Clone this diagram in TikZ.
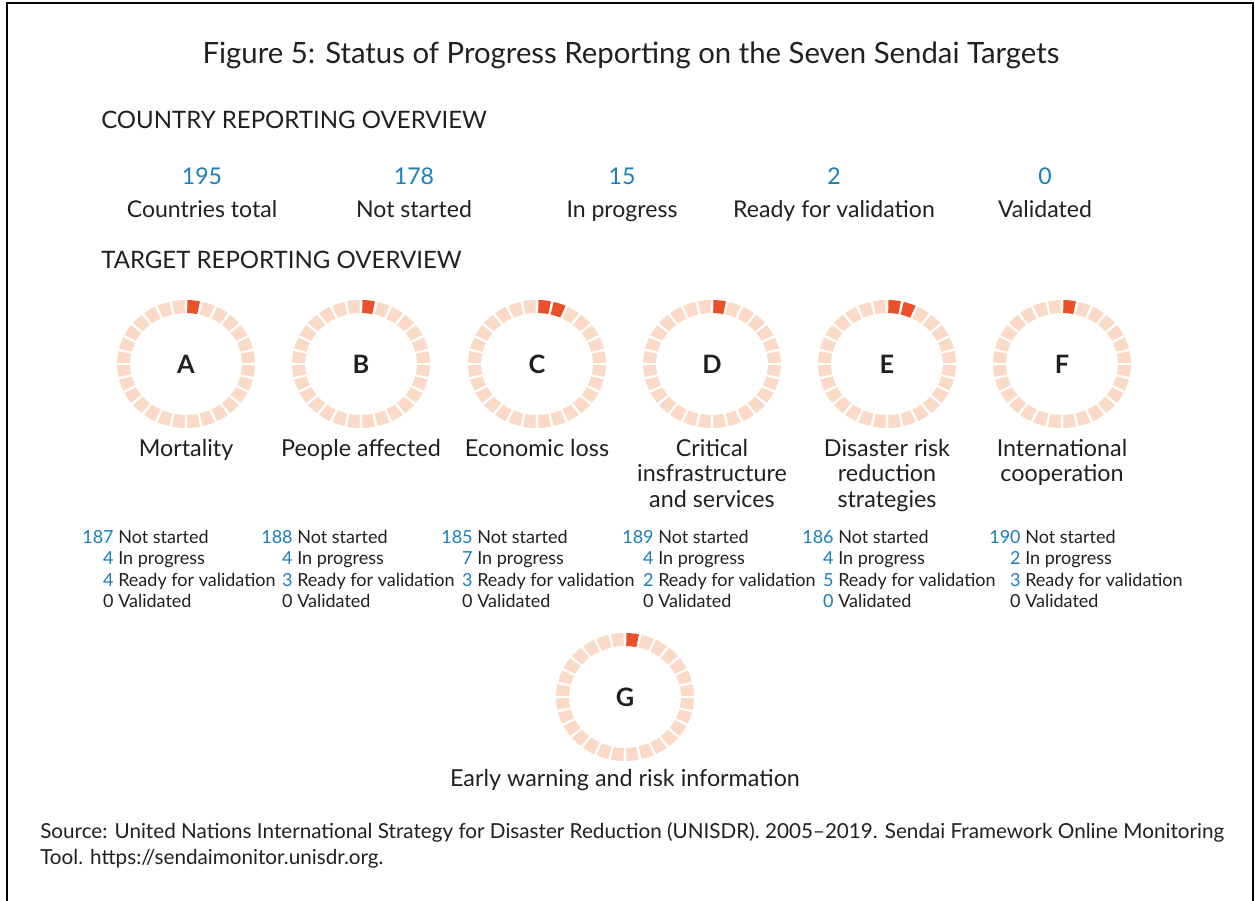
\documentclass[tikz,border=0pt]{standalone}
\usepackage{fontspec}
\setmainfont{Lato}
\usetikzlibrary{positioning}
\definecolor{sendaiblue}{HTML}{1C7DB8}
\definecolor{ringlight}{HTML}{FBD9C7}
\definecolor{ringred}{HTML}{EA5029}
\definecolor{inkc}{HTML}{231F20}

% ring of 28 blocks round a node, #2 of them red
\newcommand{\blockring}[2]{%
  \foreach \s in {0,...,27} {%
    \pgfmathsetmacro{\aa}{270+\s*360/28+1.2}
    \pgfmathsetmacro{\ab}{270+(\s+1)*360/28-1.2}
    \ifnum\s<#2 \def\segc{ringred}\else\def\segc{ringlight}\fi
    \fill[\segc, shift={(#1)}] (\aa:69 and 64)
      arc[start angle=\aa, end angle=\ab, x radius=69, y radius=64]
      -- (\ab:56 and 51)
      arc[start angle=\ab, end angle=\aa, x radius=56, y radius=51] -- cycle;
  }}
\newcommand{\bl}[1]{\textcolor{sendaiblue}{#1}}

\begin{document}
\begin{tikzpicture}[x=0.75pt, y=-0.75pt,
    every node/.style={inner sep=0pt, text=inkc},
    titletext/.style={font=\fontsize{22}{26}\selectfont},
    headline/.style={font=\fontsize{18}{21}\selectfont, anchor=base west},
    bignum/.style={font=\fontsize{17.3}{20}\selectfont, text=sendaiblue, anchor=base},
    biglabel/.style={font=\fontsize{17.3}{20}\selectfont},
    ringletter/.style={font=\fontsize{19}{22}\selectfont\bfseries},
    tname/.style={font=\fontsize{17.5}{19.2}\selectfont, align=center, anchor=north},
    statline/.style={font=\fontsize{13.5}{16}\selectfont, anchor=base west},
    sourcetext/.style={font=\fontsize{15.5}{19.5}\selectfont, align=left, anchor=base west}]
\useasboundingbox (0,0) rectangle (1255,900);
\draw[line width=1.6pt] (7,905) -- (7,3) -- (1253,3) -- (1253,905);

\node[titletext, anchor=base] (title) at (631,63)
  {Figure 5: Status of Progress Reporting on the Seven Sendai Targets};
\node[headline] (cro) at (101,128) {COUNTRY REPORTING OVERVIEW};
\node[headline] (tro) at (101,268) {TARGET REPORTING OVERVIEW};

\foreach \n/\x/\v/\l in {c1/202/195/Countries total, c2/414/178/Not started,
    c3/622/15/In progress, c4/834/2/Ready for validation, c5/1045/0/Validated} {
  \node[bignum] (\n) at (\x,184) {\v};
  \node[biglabel, below=12pt of \n] (\n l) {\l};
}

\foreach \t/\x/\y/\r in {A/186/364/1, B/361/364/1, C/537/364/2, D/712/364/1,
    E/887/364/2, F/1062/364/1, G/625/697/1} {
  \node[ringletter] (\t) at (\x,\y) {\t};
  \blockring{\t}{\r}
}

\node[tname, below=49pt of A] (nA) {Mortality};
\node[tname, below=49pt of B] (nB) {People affected};
\node[tname, below=49pt of C] (nC) {Economic loss};
\node[tname, below=49pt of D] (nD) {Critical\\insfrastructure\\and services};
\node[tname, below=49pt of E] (nE) {Disaster risk\\reduction\\strategies};
\node[tname, below=49pt of F] (nF) {International\\cooperation};
\node[tname, below=47pt of G] (nG) {Early warning and risk information};

\foreach \t/\tx/\ns/\ip/\rv/\va in {A/118/\bl{187}/4/4/0, B/297/\bl{188}/4/3/0,
    C/477/\bl{185}/7/3/0, D/658/\bl{189}/4/2/0, E/838/\bl{186}/4/5/\bl{0},
    F/1025/\bl{190}/2/3/0} {
  \node[statline] (s\t1) at (\tx,543) {\llap{\ns\ }Not started};
  \node[statline] (s\t2) at (\tx,564) {\llap{\bl{\ip}\ }In progress};
  \node[statline] (s\t3) at (\tx,586) {\llap{\bl{\rv}\ }Ready for validation};
  \node[statline] (s\t4) at (\tx,607) {\llap{\va\ }Validated};
}

\node[sourcetext] (src) at (40,864) {Source: United Nations International Strategy for Disaster Reduction (UNISDR). 2005--2019. Sendai Framework Online Monitoring\\Tool. https://sendaimonitor.unisdr.org.};
\end{tikzpicture}
\end{document}
